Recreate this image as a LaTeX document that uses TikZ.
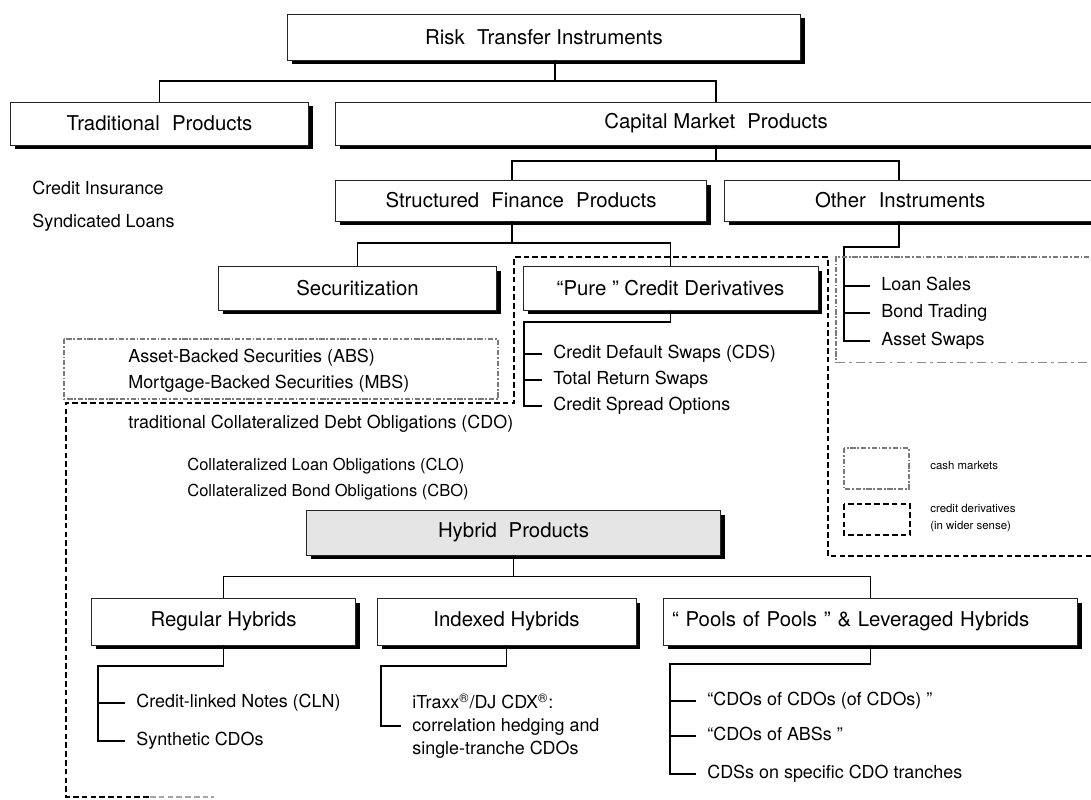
\documentclass[tikz,border=0pt]{standalone}
\usepackage{fontspec}
\setmainfont{TeX Gyre Heros}
\usetikzlibrary{shadows}

\newcommand{\wgap}{\hspace{0.6em}}

\tikzset{
  prodbox/.style={draw=black!85, line width=0.55pt, fill=white, inner sep=0pt,
    font=\fontsize{11.6}{14}\selectfont,
    drop shadow={shadow xshift=0.09cm, shadow yshift=-0.09cm, fill=black, opacity=1}},
  link/.style={line width=0.75pt},
  item/.style={anchor=west, inner xsep=0.22cm, inner ysep=0pt, text height=7.4pt,
    text depth=2pt, font=\fontsize{10.2}{13}\selectfont},
  note/.style={anchor=west, inner sep=0pt, font=\fontsize{10.2}{13}\selectfont},
  smallnote/.style={anchor=west, inner sep=0pt, font=\fontsize{9.4}{12}\selectfont},
  legend/.style={anchor=west, inner sep=0pt, align=left, font=\fontsize{6.5}{9.6}\selectfont},
  cashline/.style={draw=black!52, line width=1.6pt,
    dash pattern=on 3pt off 1pt on 1pt off 1pt},
  cashthin/.style={draw=black!45, line width=0.55pt,
    dash pattern=on 5pt off 2.5pt on 1.5pt off 2.5pt},
  derivline/.style={line width=0.6pt, dash pattern=on 3.2pt off 1.8pt},
}

\begin{document}
\begin{tikzpicture}[x=0.02cm,y=-0.02cm]

\useasboundingbox (0,0) rectangle (1091,800);

% product boxes
\node[prodbox, minimum width=10.28cm, minimum height=0.92cm] (risk) at (544,37) {Risk\wgap Transfer Instruments};
\node[prodbox, minimum width=5.98cm, minimum height=0.86cm] (trad) at (159.5,123.5) {Traditional\wgap Products};
\node[prodbox, minimum width=15.24cm, minimum height=0.86cm] (capital) at (716,123.5) {Capital Market\wgap Products};
\node[prodbox, minimum width=7.44cm, minimum height=0.82cm] (struct) at (521,200.5) {Structured\wgap Finance\wgap Products};
\node[prodbox, text width=3.82cm, inner xsep=1.82cm, minimum height=0.82cm, align=left] (other) at (910.5,200.5) {Other\hspace{0.3em} Instruments};
\node[prodbox, minimum width=5.58cm, minimum height=0.88cm] (secur) at (357.5,288) {Securitization};
\node[prodbox, minimum width=5.9cm, minimum height=0.88cm] (pure) at (670.5,288) {“Pure ” Credit Derivatives};
\node[prodbox, fill=black!10, minimum width=8.3cm, minimum height=0.9cm] (hybrid) at (513.5,532.5) {Hybrid\hspace{0.3em} Products};
\node[prodbox, minimum width=5.3cm, minimum height=0.94cm] (regular) at (223.5,621.5) {Regular Hybrids};
\node[prodbox, minimum width=5.18cm, minimum height=0.94cm] (indexed) at (506.5,621.5) {Indexed Hybrids};
\node[prodbox, text width=7.94cm, inner xsep=0.18cm, minimum height=0.94cm, align=left] (pools) at (870.5,621.5) {“ Pools of Pools ” \& Leveraged Hybrids};

% tree links
\coordinate (rj) at (555,81);
\draw[link] (risk.south -| rj) -- (rj);
\draw[link] (trad.north) |- (rj) -| (capital.north);
\coordinate (cj) at (716,161);
\coordinate (sj) at (512,243);
\coordinate (oj) at (899,247);
\draw[link] (capital.south) -- (cj);
\draw[link] (struct.north -| sj) |- (cj) -| (other.north -| oj);
\draw[link] (struct.south -| sj) -- (sj);
\draw[link] (secur.north) |- (sj) -| (pure.north);
\draw[link] (hybrid.south) -- ++(0,21) coordinate (hj);
\draw[link] (regular.north) |- (hj) -| (pools.north);

% loose texts
\node[note] (credins) at (32,188) {Credit Insurance};
\node[note] (synd) at (32,223) {Syndicated Loans};
\node[note] (abs) at (128,358) {Asset-Backed Securities (ABS)};
\node[note] (mbs) at (128,384) {Mortgage-Backed Securities (MBS)};
\node[note] (tcdo) at (128,424) {traditional Collateralized Debt Obligations (CDO)};
\node[smallnote] (clo) at (187,466) {Collateralized Loan Obligations (CLO)};
\node[smallnote] (cbo) at (187,492) {Collateralized Bond Obligations (CBO)};

% pure credit derivatives
\node[item] (cds) at (542,354) {Credit Default Swaps (CDS)};
\node[item] (trs) at (542,380) {Total Return Swaps};
\node[item] (cso) at (542,406) {Credit Spread Options};
\coordinate (pk) at (524,322);
\draw[link] (pure.south) |- (pk) |- (cso.west);
\draw[link] (pk |- cds.west) -- (cds.west);
\draw[link] (pk |- trs.west) -- (trs.west);

% other instruments
\node[item] (loan) at (870,286) {Loan Sales};
\node[item] (bond) at (870,313) {Bond Trading};
\node[item] (asw) at (870,341) {Asset Swaps};
\coordinate (ok) at (844,247);
\draw[link] (other.south -| oj) -- (oj) -- (ok) |- (asw.west);
\draw[link] (ok |- loan.west) -- (loan.west);
\draw[link] (ok |- bond.west) -- (bond.west);

% regular hybrids
\node[item] (cln) at (125,703) {Credit-linked Notes (CLN)};
\node[item] (syn) at (125,741) {Synthetic CDOs};
\coordinate (rk) at (98,666);
\draw[link] (regular.south) |- (rk) |- (syn.west);
\draw[link] (rk |- cln.west) -- (cln.west);

% indexed hybrids
\node[note, align=left, inner xsep=0.22cm] (itraxx) at (401,726)
  {iTraxx\textsuperscript{®}/DJ CDX\textsuperscript{®}:\\correlation hedging and\\single-tranche CDOs};
\coordinate (ik) at (381,666);
\draw[link] (indexed.south) |- (ik) |- (itraxx.west);

% pools of pools
\node[item] (cdocdo) at (696,701) {“CDOs of CDOs (of CDOs) ”};
\node[item] (cdoabs) at (696,736) {“CDOs of ABSs ”};
\node[item] (cdstr) at (696,774) {CDSs on specific CDO tranches};
\coordinate (qk) at (670,664);
\draw[link] (pools.south) |- (qk) |- (cdstr.west);
\draw[link] (qk |- cdocdo.west) -- (cdocdo.west);
\draw[link] (qk |- cdoabs.west) -- (cdoabs.west);

% market areas
\draw[derivline] (1100,556) -- (828,556) -- (828,257) -- (514,257) -- (514,403)
  -- (66,403) -- (66,797) -- (150,797);
\draw[derivline, black!35] (150,797) -- (214,797);
\draw[cashline] (1100,257) -- (836,257) -- (836,362);
\draw[cashthin] (836,362) -- (1100,362);
\draw[cashline] (64,339) rectangle (498,399);

% legend
\draw[cashline] (844,448) rectangle (909,489);
\draw[derivline] (844,504) rectangle (910,535);
\node[legend] (cashlbl) at (930,465) {cash markets};
\node[legend] (derivlbl) at (930,518) {credit derivatives\\(in wider sense)};

\end{tikzpicture}
\end{document}
